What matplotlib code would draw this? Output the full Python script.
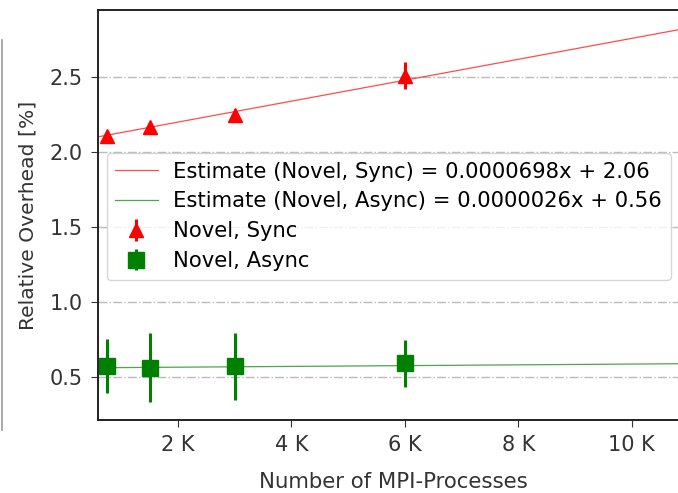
import matplotlib
matplotlib.use("Agg")
import matplotlib.pyplot as plt
from matplotlib.ticker import FuncFormatter
from matplotlib.lines import Line2D
import numpy as np

# measured data
procs = [750, 1500, 3000, 6000]
sync_mean = [2.11, 2.17, 2.25, 2.51]
sync_err = [0.03, 0.03, 0.03, 0.09]
async_mean = [0.57, 0.56, 0.57, 0.59]
async_err = [0.18, 0.23, 0.225, 0.155]

# linear fits
sync_slope, sync_icpt = 0.0000698, 2.06
async_slope, async_icpt = 0.0000026, 0.56

W, H = 678, 493
fig = plt.figure(figsize=(W / 100, H / 100), dpi=100)
ax = fig.add_axes([98 / W, (H - 420) / H, 590 / W, 410 / H])

xfit = np.array([0, 12000])
ax.plot(xfit, sync_slope * xfit + sync_icpt, color='red', lw=0.9, alpha=0.7,
        label=f'Estimate (Novel, Sync) = {sync_slope:.7f}x + {sync_icpt:.2f}')
ax.plot(xfit, async_slope * xfit + async_icpt, color='green', lw=0.9, alpha=0.7,
        label=f'Estimate (Novel, Async) = {async_slope:.7f}x + {async_icpt:.2f}')

ax.errorbar(procs, sync_mean, yerr=sync_err, fmt='^', color='red',
            markersize=10, elinewidth=2.2, capsize=0, label='Novel, Sync')
ax.errorbar(procs, async_mean, yerr=async_err, fmt='s', color='green',
            markersize=12, elinewidth=2.2, capsize=0, label='Novel, Async')

ax.set_xlim(590, 10990)
ax.set_ylim(0.213, 2.947)
ax.set_xticks([2000, 4000, 6000, 8000, 10000])
ax.set_yticks([0.5, 1.0, 1.5, 2.0, 2.5])
ax.xaxis.set_major_formatter(FuncFormatter(lambda v, p: f'{v / 1000:.0f} K'))
ax.tick_params(labelsize=15, colors='#333333', length=5, pad=6)
ax.grid(axis='y', linestyle='-.', color='#aaaaaa', alpha=0.8, lw=1.0)
ax.set_axisbelow(True)

for s in ['top', 'left', 'bottom']:
    ax.spines[s].set_linewidth(1.4)
    ax.spines[s].set_color('#222222')
ax.spines['right'].set_visible(False)

ax.set_xlabel('Number of MPI-Processes', fontsize=15.3, color='#333333', labelpad=12)
ax.set_ylabel('Relative Overhead [%]', fontsize=14.6, color='#333333', labelpad=9)

ax.legend(loc='upper left', bbox_to_anchor=(0.015, 0.651), borderaxespad=0,
          fontsize=15.2, framealpha=0.8, edgecolor='#cccccc',
          labelspacing=0.47, borderpad=0.4, handletextpad=0.75)

# thin frame edge at the left border of the screenshot
fig.add_artist(Line2D([1.5 / W, 1.5 / W], [(H - 430) / H, (H - 40) / H],
                      transform=fig.transFigure, color='#999999', lw=1.2))

fig.savefig('out.png', dpi=100)
